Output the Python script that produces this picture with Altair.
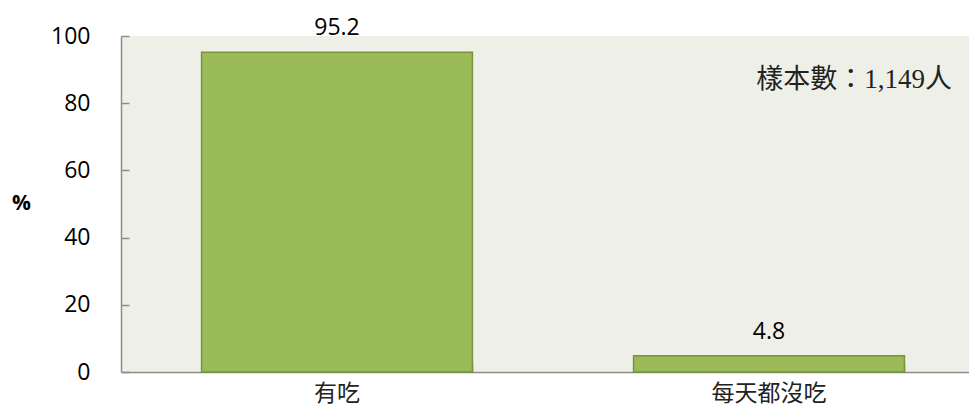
import altair as alt
import pandas as pd

categories = ["有吃", "每天都沒吃"]
values = [95.2, 4.8]
value_labels = ["95.2", "4.8"]
y_ticks = [0, 20, 40, 60, 80, 100]
note = "樣本數：1,149人"

df = pd.DataFrame({"cat": categories, "val": values, "lab": value_labels})

AX = "#8C8C8C"
LATIN = "Open Sans"
CJK = "Noto Sans CJK TC"
NOTE_FONT = "'Liberation Serif', 'Noto Sans CJK TC'"

xscale = alt.Scale(domain=categories, range=[0, 864], paddingInner=0.373, paddingOuter=0.1865)
yscale = alt.Scale(domain=[0, 100], nice=False)

base = alt.Chart(df)

bars = base.mark_bar(color="#9BBB59", stroke="#77933C", strokeWidth=1.5).encode(
    x=alt.X("cat:N", scale=xscale, sort=categories,
            axis=alt.Axis(title=None, labelAngle=0, labelFont=CJK, labelFontSize=23,
                          labelColor="#222", labelPadding=10, labelBaseline="top",
                          ticks=False, tickSize=0,
                          domain=True, domainColor=AX, domainWidth=1.5)),
    y=alt.Y("val:Q", scale=yscale,
            axis=alt.Axis(values=y_ticks, title="%", titleAngle=0, titleX=-100, titleY=167,
                          titleAlign="center", titleBaseline="middle", titleFont=LATIN,
                          titleFontSize=21, titleFontWeight="bold", titleColor="#000",
                          labelFont=LATIN, labelFontSize=23, labelColor="#000",
                          labelPadding=31, ticks=False, tickSize=0, grid=False,
                          domain=True, domainColor=AX, domainWidth=1.5)),
)

tick_layer = base.mark_bar(opacity=0).encode(
    x=alt.X("cat:N", scale=xscale, sort=categories,
            axis=alt.Axis(orient="bottom", offset=-8, labels=False, domain=False, title=None,
                          tickBand="extent", tickSize=8, tickColor=AX, tickWidth=1.5)),
    y=alt.Y("val:Q", scale=yscale,
            axis=alt.Axis(orient="left", offset=-8, labels=False, domain=False, title=None,
                          values=y_ticks, tickSize=8, tickColor=AX, tickWidth=1.5, grid=False)),
)

value_text = base.mark_text(font=LATIN, fontSize=23, color="#000", baseline="alphabetic", dy=-17).encode(
    x=alt.X("cat:N", scale=xscale, sort=categories, axis=None),
    y=alt.Y("val:Q", scale=yscale, axis=None),
    text="lab:N",
)

note_text = alt.Chart(pd.DataFrame({"t": [note]})).mark_text(
    font=NOTE_FONT, fontSize=27, color="#222", align="right", baseline="middle"
).encode(x=alt.value(831), y=alt.value(44), text="t:N")

chart = alt.layer(bars, tick_layer, value_text, note_text).resolve_axis(
    x="independent", y="independent"
).properties(
    width=848, height=336,
    autosize=alt.AutoSizeParams(type="none"),
    padding={"left": 113, "top": 28, "right": 0, "bottom": 36},
    background="white",
).configure_view(fill="#EEF0E8", strokeWidth=0)

chart.save("out.html", embed_options={"renderer": "svg", "actions": False})
